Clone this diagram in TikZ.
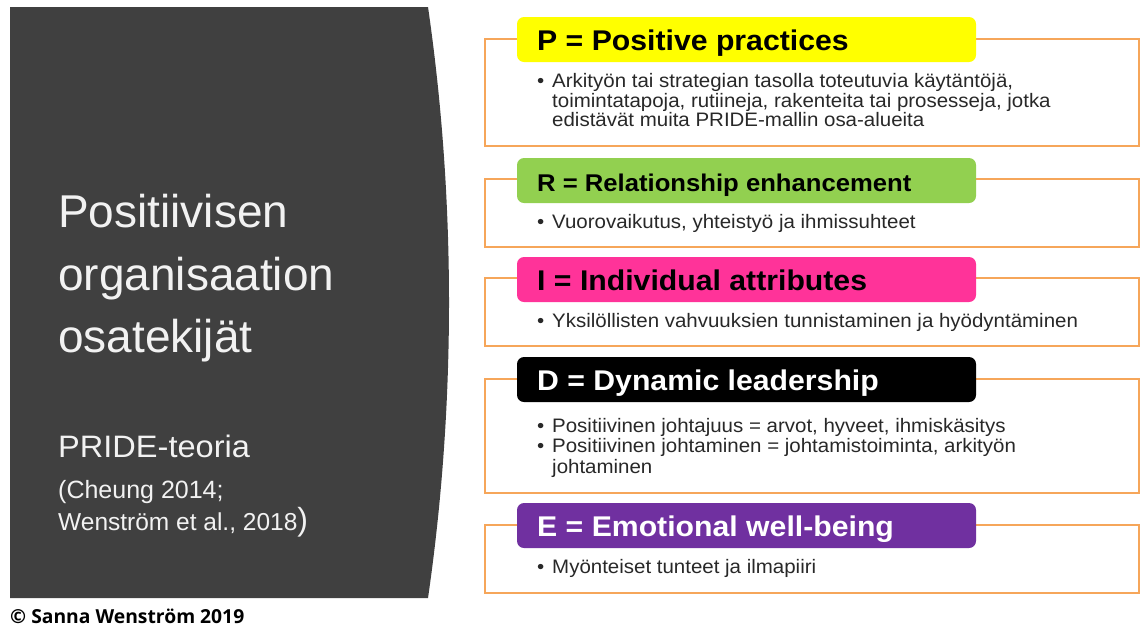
\documentclass[tikz,border=0pt]{standalone}
\usepackage{fontspec}
\setmainfont{Liberation Sans}
\newfontfamily\bodyfont{Liberation Sans}[FakeStretch=1.05]
\newfontfamily\headfont{Liberation Sans}[FakeStretch=1.06]
\newfontfamily\signfont{Open Sans}
\usepackage{tikz}

\definecolor{panelgray}{RGB}{64,64,64}
\definecolor{titlewhite}{RGB}{242,242,242}
\definecolor{frameorange}{RGB}{246,166,90}
\definecolor{pyellow}{RGB}{255,255,0}
\definecolor{rgreen}{RGB}{146,208,80}
\definecolor{ipink}{RGB}{255,51,153}
\definecolor{epurple}{RGB}{112,48,160}
\definecolor{bodyink}{RGB}{40,40,40}

\begin{document}
\begin{tikzpicture}[x=1pt,y=-1pt,
	frame/.style={draw=frameorange, line width=1.5pt},
	headbox/.style={fill=#1, rounded corners=7pt},
	headtext/.style={anchor=base west, inner sep=0pt},
	bodyline/.style={anchor=base west, inner sep=0pt, text=bodyink,
		font=\bodyfont\fontsize{19.5}{20}\selectfont},
	titleline/.style={anchor=base west, inner sep=0pt, text=titlewhite}]
\useasboundingbox (0,0) rectangle (1142,630);

% left panel
\fill[panelgray] (10,7) -- (428,7) .. controls (456,200) and (456,405) .. (428,598) -- (10,598) -- cycle;
\node[titleline, font=\fontsize{46}{50}\selectfont] (title1) at (58,227) {Positiivisen};
\node[titleline, font=\fontsize{46}{50}\selectfont] (title2) at (58,290) {organisaation};
\node[titleline, font=\fontsize{46}{50}\selectfont] (title3) at (58,352) {osatekijät};
\node[titleline, font=\bodyfont\fontsize{31}{32}\selectfont] (theory) at (58,457) {PRIDE-teoria};
\node[titleline, font=\fontsize{25}{27}\selectfont] (cite1) at (58,498) {(Cheung 2014;};
\node[titleline, font=\fontsize{24.5}{27}\selectfont] (cite2) at (58,530) {Wenström et al., 2018{\fontsize{32}{34}\selectfont)}};
\node[anchor=base west, inner sep=0pt, font=\signfont\bfseries\fontsize{19.3}{21}\selectfont] (sign) at (10,623) {© Sanna Wenström 2019};

% frames and headers
\foreach \nm/\ftop/\fbot/\htop/\hcol/\hink/\hs/\htxt in {
	pp/39/146/17/pyellow/black/28.5/{P = Positive practices},
	re/179/247/158/rgreen/black/24.2/{R = Relationship enhancement},
	ia/278/346/257/ipink/black/28.5/{I = Individual attributes},
	dl/379/493/357/black/white/28.5/{D = Dynamic leadership},
	ew/525/593/503/epurple/white/28.5/{E = Emotional well-being}}
{
	\draw[frame] (485,\ftop) rectangle (1139,\fbot);
	\path[headbox=\hcol] (517,\htop) rectangle (976,\htop+45);
	\node[headtext, text=\hink, font=\headfont\bfseries\fontsize{\hs}{30}\selectfont] (\nm) at (537,\htop+33) {\htxt};
}

% bullet lines
\foreach \nm/\y/\dot/\txt in {
	pp1/87/1/{Arkityön tai strategian tasolla toteutuvia käytäntöjä,},
	pp2/107/0/{toimintatapoja, rutiineja, rakenteita tai prosesseja, jotka},
	pp3/126/0/{edistävät muita PRIDE-mallin osa-alueita},
	re1/228/1/{Vuorovaikutus, yhteistyö ja ihmissuhteet},
	ia1/327/1/{Yksilöllisten vahvuuksien tunnistaminen ja hyödyntäminen},
	dl1/432/1/{Positiivinen johtajuus = arvot, hyveet, ihmiskäsitys},
	dl2/452/1/{Positiivinen johtaminen = johtamistoiminta, arkityön},
	dl3/473/0/{johtaminen},
	ew1/573/1/{Myönteiset tunteet ja ilmapiiri}}
{
	\node[bodyline] (\nm) at (552,\y) {\txt};
	\ifnum\dot=1 \node[bodyline] (\nm dot) at (537,\y) {•}; \fi
}

\end{tikzpicture}
\end{document}
